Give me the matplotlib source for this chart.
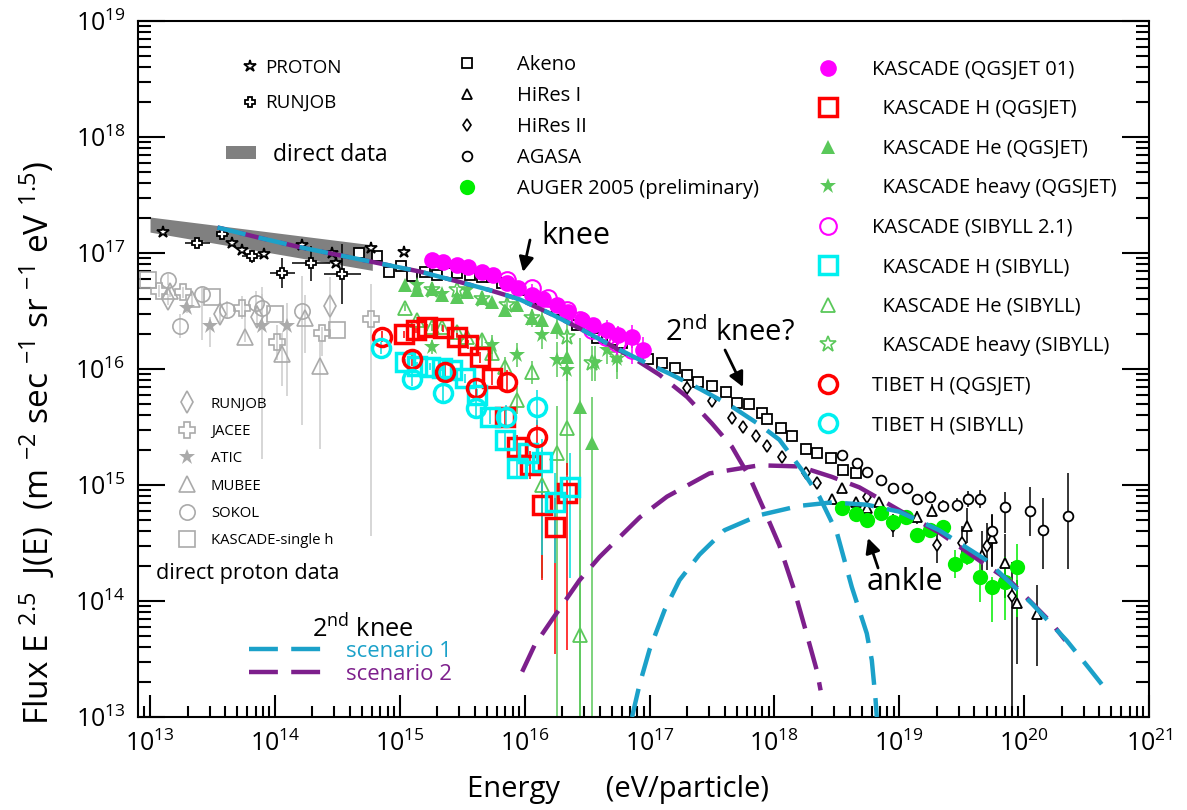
import numpy as np
import matplotlib
matplotlib.use('Agg')
import matplotlib.pyplot as plt
from matplotlib.lines import Line2D
from matplotlib.patches import Patch
from matplotlib.ticker import LogLocator, FuncFormatter, NullFormatter

plt.rcParams['font.family'] = ['Open Sans', 'DejaVu Sans']
plt.rcParams['mathtext.fontset'] = 'custom'
plt.rcParams['mathtext.rm'] = 'Open Sans'
plt.rcParams['mathtext.it'] = 'Open Sans'
plt.rcParams['mathtext.default'] = 'regular'

CYAN_LINE = '#1ba1c9'
PURPLE_LINE = '#7d1f8c'
GREEN = '#5ac85a'
AUGER_GREEN = '#00ee00'
GRAY = '#aaaaaa'
GRAY_ERR = '#cccccc'

# ---------------- model curves (log10 E [eV], log10 flux) ----------------
scen1_gal_lgE = [13.54, 13.88, 14.20, 14.52, 14.84, 15.16, 15.48, 15.72, 15.96, 16.20, 16.44, 16.68,
                 16.92, 17.16, 17.40, 17.64, 17.88, 18.04, 18.22, 18.36, 18.50, 18.62, 18.74, 18.78,
                 18.81, 18.82]
scen1_gal_lgF = [17.22, 17.13, 17.05, 16.98, 16.91, 16.84, 16.75, 16.68, 16.60, 16.48, 16.35, 16.21,
                 16.08, 15.96, 15.83, 15.69, 15.52, 15.39, 15.13, 14.90, 14.59, 14.12, 13.72, 13.49,
                 13.15, 13.00]
scen2_gal_lgE = [13.54, 13.88, 14.20, 14.52, 14.84, 15.16, 15.48, 15.72, 15.96, 16.20, 16.44, 16.68,
                 16.92, 17.08, 17.30, 17.50, 17.66, 17.80, 17.92, 18.04, 18.16, 18.26, 18.34, 18.37]
scen2_gal_lgF = [17.22, 17.13, 17.05, 16.98, 16.91, 16.84, 16.75, 16.68, 16.60, 16.48, 16.35, 16.21,
                 16.06, 15.95, 15.76, 15.53, 15.33, 15.07, 14.78, 14.48, 14.09, 13.71, 13.40, 13.23]
scen1_xgal_lgE = [16.86, 16.92, 17.00, 17.12, 17.24, 17.40, 17.60, 17.88, 18.20, 18.46, 18.74, 19.00,
                  19.32, 19.70, 20.06, 20.34, 20.52, 20.66]
scen1_xgal_lgF = [13.00, 13.28, 13.58, 13.92, 14.18, 14.40, 14.61, 14.74, 14.82, 14.85, 14.83, 14.77,
                  14.61, 14.35, 13.98, 13.66, 13.42, 13.23]
scen2_xgal_lgE = [15.98, 16.08, 16.22, 16.44, 16.60, 16.92, 17.14, 17.48, 17.88, 18.20, 18.46, 18.68,
                  18.86, 19.10, 19.32, 19.64, 19.90, 20.22, 20.33]
scen2_xgal_lgF = [13.39, 13.62, 13.84, 14.18, 14.38, 14.72, 14.90, 15.10, 15.17, 15.16, 15.07, 14.98,
                  14.87, 14.72, 14.59, 14.35, 14.16, 13.81, 13.66]

# direct data band
band_lgE = [13.0, 14.78]
band_top = [17.31, 17.07]
band_bot = [17.18, 16.85]

# ---------------- black data ----------------
proton_lgE = [13.10, 13.66, 13.74, 13.91, 14.22, 14.46, 14.49, 14.77, 15.03]
proton_lgF = [17.18, 17.09, 17.03, 16.99, 17.07, 17.00, 16.91, 17.04, 17.01]

runjob_lgE = [13.38, 13.58, 13.82, 14.06, 14.29, 14.54]
runjob_lgF = [17.09, 17.16, 16.97, 16.83, 16.91, 16.82]
runjob_dF = [0.04, 0.03, 0.06, 0.13, 0.15, 0.26]
runjob_dE = [0.10, 0.05, 0.08, 0.10, 0.15, 0.15]

akeno_lgE = [14.67, 14.82, 14.91, 15.01, 15.10, 15.20, 15.30, 15.38, 15.46, 15.56, 15.66, 15.74, 15.82,
             15.96, 16.12, 16.26, 16.42, 16.58, 16.70, 16.78, 16.99, 17.10, 17.20, 17.30, 17.39, 17.50,
             17.61, 17.70, 17.80, 17.90, 17.94, 18.05, 18.14, 18.25, 18.34, 18.45, 18.55, 18.65]
akeno_lgF = [17.00, 16.97, 16.84, 16.89, 16.80, 16.84, 16.81, 16.83, 16.83, 16.81, 16.79, 16.79, 16.74,
             16.68, 16.60, 16.51, 16.38, 16.27, 16.25, 16.22, 16.09, 16.05, 16.01, 15.95, 15.89, 15.85,
             15.80, 15.71, 15.70, 15.62, 15.57, 15.49, 15.42, 15.31, 15.28, 15.23, 15.13, 15.10]

hires1_lgE = [18.46, 18.54, 18.65, 18.74, 18.84, 19.14, 19.26, 19.54, 19.66, 19.74, 19.85, 19.94, 20.10]
hires1_lgF = [14.88, 14.97, 14.85, 14.80, 14.85, 14.72, 14.78, 14.65, 14.40, 14.54, 14.33, 13.98, 13.89]
hires1_lo = [0.03, 0.03, 0.03, 0.03, 0.04, 0.06, 0.06, 0.15, 0.25, 0.25, 0.30, 0.52, 0.45]
hires1_hi = [0.03, 0.03, 0.03, 0.03, 0.04, 0.06, 0.06, 0.15, 0.20, 0.20, 0.25, 0.20, 0.25]

hires2_lgE = [17.30, 17.50, 17.66, 17.75, 17.85, 17.94, 18.06, 18.25, 18.34, 18.74, 18.95, 19.30, 19.50,
              19.70, 19.90]
hires2_lgF = [15.84, 15.72, 15.58, 15.50, 15.42, 15.34, 15.24, 15.10, 15.02, 14.90, 14.65, 14.48, 14.50,
              14.47, 14.04]
hires2_lo = [0.06, 0.02, 0.02, 0.02, 0.02, 0.02, 0.02, 0.02, 0.03, 0.05, 0.10, 0.15, 0.15, 0.20, 1.50]
hires2_hi = [0.06, 0.02, 0.02, 0.02, 0.02, 0.02, 0.02, 0.02, 0.03, 0.05, 0.10, 0.15, 0.15, 0.20, 0.30]

agasa_lgE = [18.54, 18.66, 18.74, 18.85, 18.95, 19.06, 19.14, 19.25, 19.35, 19.46, 19.55, 19.65, 19.74,
             19.85, 20.05, 20.15, 20.35]
agasa_lgF = [15.26, 15.19, 15.11, 15.04, 14.97, 14.97, 14.88, 14.90, 14.82, 14.83, 14.88, 14.88, 14.60,
             14.81, 14.78, 14.61, 14.73]
agasa_lo = [0.02, 0.02, 0.02, 0.03, 0.03, 0.03, 0.04, 0.05, 0.05, 0.06, 0.07, 0.08, 0.30, 0.22, 0.22,
            0.33, 0.45]
agasa_hi = [0.02, 0.02, 0.02, 0.03, 0.03, 0.03, 0.04, 0.05, 0.05, 0.06, 0.07, 0.08, 0.15, 0.13, 0.20,
            0.28, 0.37]

auger_lgE = [18.54, 18.65, 18.74, 18.85, 18.95, 19.05, 19.14, 19.25, 19.35, 19.45, 19.54, 19.65, 19.74,
             19.85, 19.94]
auger_lgF = [14.80, 14.75, 14.70, 14.76, 14.68, 14.72, 14.57, 14.61, 14.64, 14.32, 14.39, 14.21, 14.12,
             14.16, 14.29]
auger_lo = [0.02, 0.02, 0.02, 0.03, 0.03, 0.03, 0.04, 0.04, 0.05, 0.12, 0.08, 0.22, 0.30, 0.32, 0.43]
auger_hi = [0.02, 0.02, 0.02, 0.03, 0.03, 0.03, 0.04, 0.04, 0.05, 0.12, 0.08, 0.12, 0.09, 0.22, 0.20]

# ---------------- KASCADE / TIBET ----------------
kq_lgE = [15.26, 15.35, 15.46, 15.55, 15.66, 15.75, 15.86, 15.95, 16.06, 16.15, 16.26, 16.35, 16.46,
          16.55, 16.66, 16.75, 16.86, 16.95]
kq_lgF = [16.94, 16.92, 16.90, 16.88, 16.84, 16.81, 16.74, 16.70, 16.64, 16.60, 16.55, 16.49, 16.42,
          16.38, 16.34, 16.29, 16.28, 16.16]
kq_err = [0.01, 0.01, 0.01, 0.01, 0.01, 0.01, 0.01, 0.01, 0.02, 0.03, 0.03, 0.04, 0.05, 0.06, 0.08,
          0.08, 0.10, 0.12]

ks_lgE = [15.86, 16.06, 16.19, 16.34, 16.44, 16.54, 16.65, 16.74, 16.86]
ks_lgF = [16.77, 16.70, 16.61, 16.51, 16.42, 16.34, 16.28, 16.22, 16.16]
ks_err = [0.02, 0.03, 0.03, 0.04, 0.05, 0.06, 0.08, 0.10, 0.12]

heq_lgE = [15.04, 15.14, 15.26, 15.34, 15.46, 15.54, 15.66, 15.74, 15.84, 15.94, 16.06, 16.14, 16.26,
           16.34, 16.44, 16.54]
heq_lgF = [16.72, 16.68, 16.69, 16.64, 16.62, 16.66, 16.61, 16.58, 16.51, 16.55, 16.44, 16.42, 16.36,
           16.10, 15.67, 15.36]
heq_lo = [0.02, 0.02, 0.02, 0.02, 0.02, 0.02, 0.03, 0.03, 0.04, 0.05, 0.06, 0.08, 0.10, 0.20, 3.0, 3.0]
heq_hi = [0.02, 0.02, 0.02, 0.02, 0.02, 0.02, 0.03, 0.03, 0.04, 0.05, 0.06, 0.08, 0.10, 0.20, 0.60, 0.40]

hes_lgE = [15.04, 15.14, 15.26, 15.34, 15.46, 15.54, 15.66, 15.74, 15.84, 15.94, 16.06, 16.14, 16.26,
           16.34, 16.44]
hes_lgF = [16.53, 16.42, 16.36, 16.36, 16.32, 16.28, 16.25, 16.14, 16.02, 15.73, 15.97, 15.00, 15.28,
           15.49, 13.71]
hes_lo = [0.03, 0.03, 0.03, 0.03, 0.04, 0.04, 0.05, 0.06, 0.08, 0.12, 0.10, 0.80, 2.50, 0.40, 3.0]
hes_hi = [0.03, 0.03, 0.03, 0.03, 0.04, 0.04, 0.05, 0.06, 0.08, 0.12, 0.10, 0.30, 0.40, 0.30, 0.90]

hvq_lgE = [15.14, 15.26, 15.34, 15.54, 15.74, 15.94, 16.14, 16.26, 16.34, 16.56, 16.66, 16.74]
hvq_lgF = [16.72, 16.19, 16.65, 16.68, 16.21, 16.12, 16.29, 16.08, 15.99, 16.05, 16.16, 16.09]
hvq_err = [0.03, 0.06, 0.03, 0.04, 0.08, 0.10, 0.12, 0.15, 0.20, 0.15, 0.12, 0.18]

hvs_lgE = [15.26, 15.46, 15.66, 15.86, 16.06, 16.34, 16.54, 16.74]
hvs_lgF = [16.68, 16.68, 16.60, 16.55, 16.44, 16.28, 16.05, 16.12]
hvs_err = [0.03, 0.03, 0.04, 0.05, 0.08, 0.12, 0.15, 0.15]

hq_lgE = [15.03, 15.13, 15.22, 15.35, 15.46, 15.55, 15.64, 15.74, 15.84, 15.94, 16.04, 16.14, 16.24,
          16.34]
hq_lgF = [16.30, 16.34, 16.36, 16.35, 16.28, 16.21, 16.10, 15.92, 15.59, 15.33, 15.17, 14.83, 14.64,
          14.93]
hq_lo = [0.03, 0.03, 0.03, 0.03, 0.03, 0.04, 0.05, 0.06, 0.08, 0.10, 0.12, 0.65, 1.10, 1.35]
hq_hi = [0.03, 0.03, 0.03, 0.03, 0.03, 0.04, 0.05, 0.06, 0.08, 0.10, 0.12, 0.20, 0.25, 0.26]

hs_lgE = [15.04, 15.14, 15.24, 15.34, 15.42, 15.52, 15.62, 15.72, 15.84, 15.94, 16.03, 16.14, 16.24,
          16.36]
hs_lgF = [16.06, 16.03, 16.02, 16.01, 15.99, 15.92, 15.78, 15.59, 15.39, 15.15, 15.28, 15.20, 14.85,
          14.98]
hs_lo = [0.03, 0.03, 0.03, 0.03, 0.03, 0.04, 0.05, 0.06, 0.08, 0.10, 0.12, 0.80, 0.52, 0.78]
hs_hi = [0.03, 0.03, 0.03, 0.03, 0.03, 0.04, 0.05, 0.06, 0.08, 0.10, 0.12, 0.20, 0.25, 0.30]

tq_lgE = [14.86, 15.10, 15.36, 15.61, 15.86, 16.10]
tq_lgF = [16.28, 16.09, 15.97, 15.84, 15.89, 15.41]
tq_err = [0.05, 0.06, 0.07, 0.08, 0.10, 0.15]

ts_lgE = [14.85, 15.10, 15.35, 15.61, 15.85, 16.10]
ts_lgF = [16.18, 15.91, 15.79, 15.66, 15.59, 15.67]
ts_err = [0.05, 0.06, 0.07, 0.08, 0.10, 0.15]

# ---------------- direct proton data (grey) ----------------
rj_lgE = [13.14, 13.56, 13.86, 14.44]
rj_lgF = [16.60, 16.47, 16.45, 16.54]
rj_lo = [0.05, 0.08, 0.10, 0.27]
rj_hi = [0.05, 0.08, 0.10, 0.25]

jacee_lgE = [13.07, 13.26, 13.74, 14.02, 14.38, 14.77]
jacee_lgF = [16.67, 16.66, 16.53, 16.23, 16.31, 16.43]
jacee_lo = [0.05, 0.05, 0.10, 0.15, 0.20, 1.87]
jacee_hi = [0.05, 0.05, 0.10, 0.15, 0.05, 0.30]

atic_lgE = [13.30, 13.48, 13.90, 14.10]
atic_lgF = [16.53, 16.37, 16.37, 16.37]
atic_lo = [0.05, 0.18, 1.15, 0.60]
atic_hi = [0.05, 0.08, 0.34, 0.20]

mubee_lgE = [13.16, 13.34, 13.76, 14.06, 14.24, 14.36]
mubee_lgF = [16.67, 16.60, 16.28, 16.13, 16.44, 16.03]
mubee_lo = [0.05, 0.05, 0.05, 0.28, 0.30, 0.72]
mubee_hi = [0.05, 0.05, 0.30, 0.18, 0.20, 0.20]

sokol_lgE = [13.14, 13.24, 13.42, 13.62, 13.85, 13.90, 14.22]
sokol_lgF = [16.77, 16.37, 16.65, 16.51, 16.57, 16.53, 16.50]
sokol_lo = [0.05, 0.10, 0.40, 0.08, 0.10, 0.12, 0.98]
sokol_hi = [0.05, 0.10, 0.06, 0.08, 0.10, 0.12, 0.30]

ksh_lgE = [12.98, 13.50, 14.00, 14.50]
ksh_lgF = [16.77, 16.62, 16.47, 16.34]


def draw(ax, lgE, lgF, style, lo=None, hi=None, dE=None, ecolor='k', z=3):
    lgE = np.asarray(lgE, float)
    lgF = np.asarray(lgF, float)
    E, F = 10 ** lgE, 10 ** lgF
    if lo is not None or dE is not None:
        yerr = None
        xerr = None
        if lo is not None:
            yerr = [F - 10 ** (lgF - np.asarray(lo)), 10 ** (lgF + np.asarray(hi)) - F]
        if dE is not None:
            xerr = [E - 10 ** (lgE - np.asarray(dE)), 10 ** (lgE + np.asarray(dE)) - E]
        ax.errorbar(E, F, yerr=yerr, xerr=xerr, fmt='none', ecolor=ecolor,
                    elinewidth=1.1, capsize=0, zorder=z - 0.5)
    ax.plot(E, F, ls='none', zorder=z, **style)


def curve(ax, lgE, lgF, color, z=6, offset=0):
    ax.plot(10 ** np.asarray(lgE), 10 ** np.asarray(lgF), color=color, lw=3.2,
            ls=(offset, (6.5, 3)), zorder=z, solid_capstyle='butt', dash_capstyle='butt')


# marker styles
st_proton = dict(marker='*', ms=9, mfc='white', mec='k', mew=1.3)
st_runjob = dict(marker='P', ms=7.5, mfc='white', mec='k', mew=1.3)
st_akeno = dict(marker='s', ms=6.5, mfc='white', mec='k', mew=1.3)
st_hires1 = dict(marker='^', ms=6.5, mfc='white', mec='k', mew=1.3)
st_hires2 = dict(marker='d', ms=6, mfc='white', mec='k', mew=1.2)
st_agasa = dict(marker='o', ms=7, mfc='white', mec='k', mew=1.3)
st_auger = dict(marker='o', ms=11, mfc=AUGER_GREEN, mec=AUGER_GREEN, mew=0)
st_kq = dict(marker='o', ms=12, mfc='#ff00ff', mec='#ff00ff', mew=0)
st_hq = dict(marker='s', ms=13, mfc='none', mec='#ff0000', mew=2.5)
st_heq = dict(marker='^', ms=10, mfc=GREEN, mec=GREEN, mew=0)
st_hvq = dict(marker='*', ms=12, mfc=GREEN, mec=GREEN, mew=0)
st_ks = dict(marker='o', ms=12, mfc='none', mec='#ff00ff', mew=1.5)
st_hs = dict(marker='s', ms=13, mfc='none', mec='#00f0f0', mew=2.5)
st_hes = dict(marker='^', ms=10, mfc='none', mec=GREEN, mew=1.3)
st_hvs = dict(marker='*', ms=12, mfc='none', mec=GREEN, mew=1.2)
st_tq = dict(marker='o', ms=13, mfc='none', mec='#ff0000', mew=2.5)
st_ts = dict(marker='o', ms=13, mfc='none', mec='#00f0f0', mew=2.5)
st_rj = dict(marker='d', ms=11, mfc='none', mec=GRAY, mew=1.2)
st_jacee = dict(marker='P', ms=12, mfc='none', mec=GRAY, mew=1.2)
st_atic = dict(marker='*', ms=12, mfc=GRAY, mec=GRAY, mew=0)
st_mubee = dict(marker='^', ms=12, mfc='none', mec=GRAY, mew=1.2)
st_sokol = dict(marker='o', ms=11, mfc='none', mec=GRAY, mew=1.2)
st_ksh = dict(marker='s', ms=11, mfc='none', mec=GRAY, mew=1.2)

fig = plt.figure(figsize=(11.87, 8.10), dpi=100)
ax = fig.add_axes([0.1163, 0.1148, 0.8517, 0.8593])
ax.set_xscale('log')
ax.set_yscale('log')

# direct data band
ax.fill_between(10 ** np.asarray(band_lgE), 10 ** np.asarray(band_bot), 10 ** np.asarray(band_top),
                color='#808080', lw=0, zorder=1)

# grey direct proton data
draw(ax, rj_lgE, rj_lgF, st_rj, rj_lo, rj_hi, ecolor=GRAY_ERR, z=2)
draw(ax, jacee_lgE, jacee_lgF, st_jacee, jacee_lo, jacee_hi, ecolor=GRAY_ERR, z=2)
draw(ax, atic_lgE, atic_lgF, st_atic, atic_lo, atic_hi, ecolor=GRAY_ERR, z=2)
draw(ax, mubee_lgE, mubee_lgF, st_mubee, mubee_lo, mubee_hi, ecolor=GRAY_ERR, z=2)
draw(ax, sokol_lgE, sokol_lgF, st_sokol, sokol_lo, sokol_hi, ecolor=GRAY_ERR, z=2)
draw(ax, ksh_lgE, ksh_lgF, st_ksh, z=2)

# black data below the KASCADE points
draw(ax, akeno_lgE, akeno_lgF, st_akeno, z=2.8)

# KASCADE / TIBET
draw(ax, heq_lgE, heq_lgF, st_heq, heq_lo, heq_hi, ecolor=GREEN)
draw(ax, hes_lgE, hes_lgF, st_hes, hes_lo, hes_hi, ecolor=GREEN)
draw(ax, hvq_lgE, hvq_lgF, st_hvq, hvq_err, hvq_err, ecolor=GREEN)
draw(ax, hvs_lgE, hvs_lgF, st_hvs, hvs_err, hvs_err, ecolor=GREEN)
draw(ax, hq_lgE, hq_lgF, st_hq, hq_lo, hq_hi, ecolor='#ff0000', z=3.3)
draw(ax, hs_lgE, hs_lgF, st_hs, hs_lo, hs_hi, ecolor='#00e0e0', z=3.3)
draw(ax, tq_lgE, tq_lgF, st_tq, tq_err, tq_err, ecolor='#ff0000', z=3.4)
draw(ax, ts_lgE, ts_lgF, st_ts, ts_err, ts_err, ecolor='#00e0e0', z=3.4)
draw(ax, kq_lgE, kq_lgF, st_kq, kq_err, kq_err, ecolor='#ff00ff', z=3.6)
draw(ax, ks_lgE, ks_lgF, st_ks, ks_err, ks_err, ecolor='#ff00ff', z=3.6)

# other black data
draw(ax, proton_lgE, proton_lgF, st_proton, z=4)
draw(ax, runjob_lgE, runjob_lgF, st_runjob, runjob_dF, runjob_dF, dE=runjob_dE, ecolor='k', z=4)
draw(ax, hires1_lgE, hires1_lgF, st_hires1, hires1_lo, hires1_hi, z=4)
draw(ax, hires2_lgE, hires2_lgF, st_hires2, hires2_lo, hires2_hi, z=4)
draw(ax, agasa_lgE, agasa_lgF, st_agasa, agasa_lo, agasa_hi, z=4)
draw(ax, auger_lgE, auger_lgF, st_auger, auger_lo, auger_hi, ecolor=AUGER_GREEN, z=4.2)

# model curves
curve(ax, scen2_gal_lgE, scen2_gal_lgF, PURPLE_LINE, z=6, offset=4.5)
curve(ax, scen1_gal_lgE, scen1_gal_lgF, CYAN_LINE, z=6.1)
curve(ax, scen2_xgal_lgE, scen2_xgal_lgF, PURPLE_LINE, z=6)
curve(ax, scen1_xgal_lgE, scen1_xgal_lgF, CYAN_LINE, z=6.1)

# axes
ax.set_xlim(10 ** 12.904, 1e21)
ax.set_ylim(1e13, 1e19)
fmt = FuncFormatter(lambda v, p: r'$10^{%d}$' % int(round(np.log10(v))))
for axis in (ax.xaxis, ax.yaxis):
    axis.set_major_locator(LogLocator(base=10, numticks=20))
    axis.set_minor_locator(LogLocator(base=10, subs=np.arange(2, 10), numticks=100))
    axis.set_major_formatter(fmt)
    axis.set_minor_formatter(NullFormatter())
ax.tick_params(which='both', direction='in', top=False, right=True, width=1.5, labelsize=18)
ax.tick_params(axis='x', which='major', length=16, pad=10)
ax.tick_params(axis='x', which='minor', length=7.7)
ax.tick_params(axis='y', which='major', length=19.5, pad=9)
ax.tick_params(axis='y', which='minor', length=9.6)
for sp in ax.spines.values():
    sp.set_linewidth(1.5)

ax.set_xlabel('Energy      (eV/particle)', fontsize=21)
ax.xaxis.set_label_coords(0.4743, -0.084)
ax.set_ylabel(r'Flux E $^{2.5}$  J(E)  (m $^{-2}$ sec $^{-1}$ sr $^{-1}$ eV $^{1.5}$)', fontsize=24)
ax.yaxis.set_label_coords(-0.080, 0.394)

# ---------------- legends ----------------
def handle(style):
    return Line2D([], [], ls='none', **style)


common = dict(frameon=False, borderpad=0, borderaxespad=0, loc='upper left', numpoints=1)

leg1a = ax.legend([handle(st_proton), handle(st_runjob)], ['PROTON', 'RUNJOB'],
                  bbox_to_anchor=(0.1034, 0.9454), fontsize=13.5, handlelength=0.8,
                  handletextpad=0.4, labelspacing=0.92, **common)
ax.add_artist(leg1a)
leg1b = ax.legend([Patch(facecolor='#808080', edgecolor='none')], ['direct data'],
                  bbox_to_anchor=(0.087, 0.8254), fontsize=16.5, handlelength=1.31,
                  handleheight=0.45, handletextpad=0.74, **common)
ax.add_artist(leg1b)

leg2 = ax.legend([handle(st_akeno), handle(st_hires1), handle(st_hires2), handle(st_agasa),
                  handle(st_auger)],
                 ['Akeno', 'HiRes I', 'HiRes II', 'AGASA', 'AUGER 2005 (preliminary)'],
                 bbox_to_anchor=(0.3152, 0.9510), fontsize=14.5, handlelength=1.0,
                 handletextpad=1.98, labelspacing=0.55, **common)
ax.add_artist(leg2)

leg3 = ax.legend([handle(st_kq), handle(st_hq), handle(st_heq), handle(st_hvq), handle(st_ks),
                  handle(st_hs), handle(st_hes), handle(st_hvs), handle(st_tq), handle(st_ts)],
                 ['KASCADE (QGSJET 01)', '  KASCADE H (QGSJET)', '  KASCADE He (QGSJET)',
                  '  KASCADE heavy (QGSJET)', 'KASCADE (SIBYLL 2.1)', '  KASCADE H (SIBYLL)',
                  '  KASCADE He (SIBYLL)', '  KASCADE heavy (SIBYLL)', 'TIBET H (QGSJET)',
                  'TIBET H (SIBYLL)'],
                 bbox_to_anchor=(0.6732, 0.9444), fontsize=14.5, handlelength=0.97,
                 handletextpad=1.68, labelspacing=0.97, **common)
ax.add_artist(leg3)

leg4 = ax.legend([handle(st_rj), handle(st_jacee), handle(st_atic), handle(st_mubee),
                  handle(st_sokol), handle(st_ksh)],
                 ['RUNJOB', 'JACEE', 'ATIC', 'MUBEE', 'SOKOL', 'KASCADE-single h'],
                 bbox_to_anchor=(0.0408, 0.4603), fontsize=10.7, handlelength=1.0,
                 handletextpad=1.13, labelspacing=0.83, **common)
ax.add_artist(leg4)
ax.text(0.0178, 0.1983, 'direct proton data', transform=ax.transAxes, fontsize=15.6,
        va='baseline', ha='left')

leg5 = ax.legend([Line2D([], [], color=CYAN_LINE, lw=3.2, ls=(0, (6.5, 3))),
                  Line2D([], [], color=PURPLE_LINE, lw=3.2, ls=(0, (6.5, 3)))],
                 ['scenario 1', 'scenario 2'],
                 bbox_to_anchor=(0.1101, 0.1093), fontsize=15.9, handlelength=3.65,
                 handletextpad=0.72, labelspacing=0.086, **common)
for t, c in zip(leg5.get_texts(), [CYAN_LINE, PURPLE_LINE]):
    t.set_color(c)
ax.text(0.1718, 0.1139, r'$2^{nd}$ knee', transform=ax.transAxes, fontsize=18.3,
        va='baseline', ha='left')

# ---------------- annotations ----------------
arrow = dict(arrowstyle='-|>', color='k', lw=2, mutation_scale=22, shrinkA=0, shrinkB=0)
ax.text(0.3986, 0.6911, 'knee', transform=ax.transAxes, fontsize=22, va='center', ha='left')
ax.annotate('', xy=(0.3808, 0.6394), xytext=(0.3877, 0.6853), xycoords='axes fraction',
            arrowprops=arrow)
ax.text(0.5213, 0.5517, r'$2^{nd}$ knee?', transform=ax.transAxes, fontsize=21, va='center',
        ha='left')
ax.annotate('', xy=(0.5984, 0.4741), xytext=(0.5806, 0.5273), xycoords='axes fraction',
            arrowprops=arrow)
ax.text(0.7211, 0.194, 'ankle', transform=ax.transAxes, fontsize=22, va='center', ha='left')
ax.annotate('', xy=(0.722, 0.2572), xytext=(0.732, 0.2141), xycoords='axes fraction',
            arrowprops=arrow)

fig.savefig('out.png', dpi=100)
